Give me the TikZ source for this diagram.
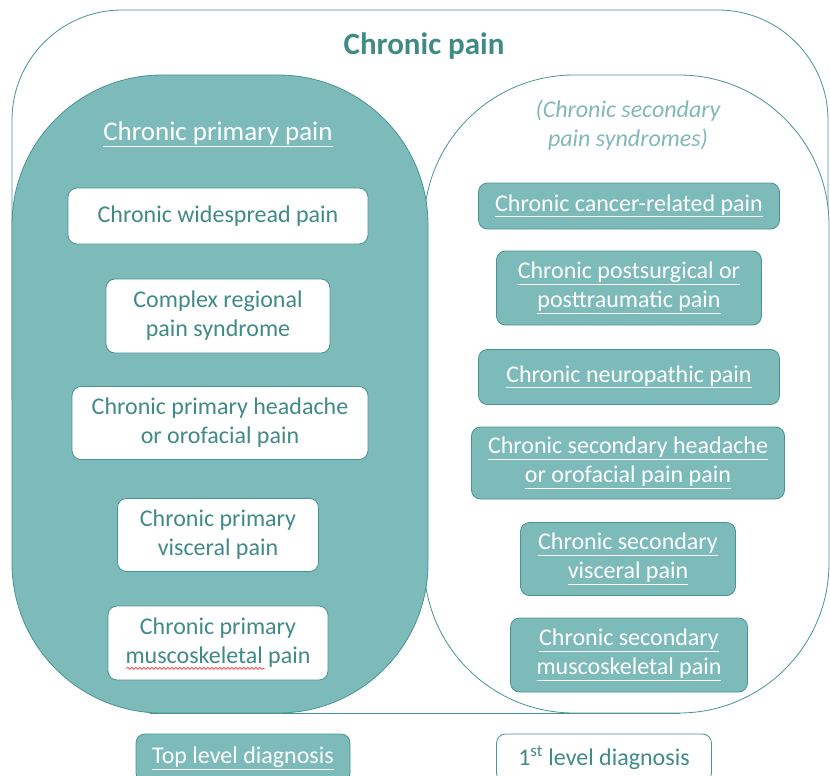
\documentclass[tikz,border=0pt]{standalone}
\usepackage{fontspec}
\setmainfont{Carlito}
\usetikzlibrary{positioning,decorations.pathmorphing}
\definecolor{painteal}{RGB}{125,187,186}
\definecolor{paindark}{RGB}{72,148,146}
\definecolor{paintext}{RGB}{64,138,136}
\definecolor{painlight}{RGB}{130,185,183}

\begin{document}
\begin{tikzpicture}[x=1pt,y=-1pt,
    boxfont/.style={font=\fontsize{24}{29}\selectfont},
    primbox/.style={boxfont, draw=paindark, fill=white, text=paintext, line width=0.8pt,
      rounded corners=9pt, align=center, inner sep=0pt},
    secbox/.style={boxfont, draw=paindark, fill=painteal, text=white, line width=0.8pt,
      rounded corners=9pt, align=center, inner sep=0pt}]
    \useasboundingbox (0,0) rectangle (830,776);

    % Outer frame
    \draw[paindark, line width=0.8pt, rounded corners=110pt]
        (12,400) -- (12,10) -- (828,10) -- (828,400);
    \draw[paindark, line width=0.8pt] (150,713) -- (680,713);
    \node[font=\fontsize{31}{36}\selectfont\bfseries, text=paintext] (title) at (424,46) {Chronic pain};

    % Two main groups
    \draw[paindark, line width=0.8pt, fill=white, rounded corners=150pt] (424,75) rectangle (829,713);
    \draw[paindark, line width=0.8pt, fill=painteal, rounded corners=150pt] (12,75) rectangle (428,713);

    \node[font=\fontsize{27}{32}\selectfont, text=white] (prim) at (218,134) {\underline{Chronic primary pain}};
    \node[text=painlight, align=center, font=\fontsize{24}{29}\selectfont\itshape] (sec) at (628,125)
        {(Chronic secondary\\pain syndromes)};

    % Primary pain boxes
    \node[primbox, minimum width=300pt, minimum height=56pt] (p1) at (218,216) {Chronic widespread pain};
    \node[primbox, minimum width=224pt, minimum height=74pt] (p2) at (218,316) {Complex regional\\pain syndrome};
    \node[primbox, minimum width=296pt, minimum height=73pt] (p3) at (220,423) {Chronic primary headache\\or orofacial pain};
    \node[primbox, minimum width=201pt, minimum height=73pt] (p4) at (218,535) {Chronic primary\\visceral pain};
    \node[primbox, minimum width=220pt, minimum height=74pt] (p5) at (218,643) {Chronic primary\\muscoskeletal pain};
    \draw[red, line width=0.6pt, decorate, decoration={snake, amplitude=1pt, segment length=4pt}]
        ([xshift=19pt,yshift=12pt]p5.south west) -- ([xshift=157pt,yshift=12pt]p5.south west);

    % Secondary pain boxes
    \node[secbox, minimum width=301pt, minimum height=46pt] (s1) at (629,206) {\underline{Chronic cancer-related pain}};
    \node[secbox, minimum width=265pt, minimum height=74pt] (s2) at (629,288) {\underline{Chronic postsurgical or}\\\underline{posttraumatic pain}};
    \node[secbox, minimum width=301pt, minimum height=55pt] (s3) at (629,377) {\underline{Chronic neuropathic pain}};
    \node[secbox, minimum width=313pt, minimum height=72pt] (s4) at (628,463) {\underline{Chronic secondary headache}\\\underline{or orofacial pain pain}};
    \node[secbox, minimum width=215pt, minimum height=73pt] (s5) at (628,559) {\underline{Chronic secondary}\\\underline{visceral pain}};
    \node[secbox, minimum width=237pt, minimum height=74pt] (s6) at (629,655) {\underline{Chronic secondary}\\\underline{muscoskeletal pain}};

    % Legend
    \node[secbox, minimum width=214pt, minimum height=48pt] (ltop) at (243,758) {\underline{Top level diagnosis}};
    \node[primbox, minimum width=215pt, minimum height=48pt] (lfirst) at (604,758) {1\textsuperscript{st} level diagnosis};
\end{tikzpicture}
\end{document}
